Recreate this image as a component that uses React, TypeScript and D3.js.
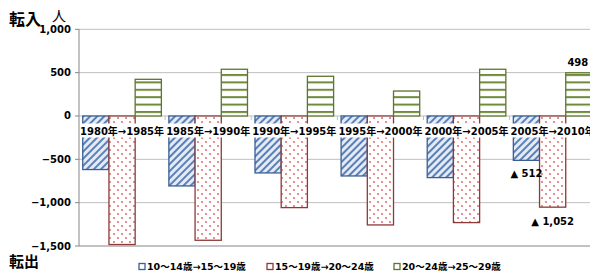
import { useEffect, useRef } from "react";
import * as d3 from "d3";

// 期間 (categories)
const periods = [
  "1980年→1985年",
  "1985年→1990年",
  "1990年→1995年",
  "1995年→2000年",
  "2000年→2005年",
  "2005年→2010年",
];

const seriesNames = ["10～14歳→15～19歳", "15～19歳→20～24歳", "20～24歳→25～29歳"];

const age10to14 = [-618, -807, -657, -692, -711, -512];
const age15to19 = [-1483, -1434, -1057, -1257, -1230, -1052];
const age20to24 = [423, 539, 458, 288, 539, 498];

const yTicks = [1000, 500, 0, -500, -1000, -1500];

const NUM_FONT = "'DejaVu Sans', 'Noto Sans CJK JP', sans-serif";
const JP_FONT = "'Noto Sans CJK JP', sans-serif";

export default function App() {
  const svgRef = useRef<SVGSVGElement>(null);

  useEffect(() => {
    if (!svgRef.current) return;
    const svg = d3.select(svgRef.current);
    const width = 590;
    const height = 273;
    svg.selectAll("*").remove();
    svg.attr("width", width).attr("height", height);

    const allSeries = [age10to14, age15to19, age20to24];

    // Patterns
    const defs = svg.append("defs");
    const pBlue = defs
      .append("pattern")
      .attr("id", "pBlue")
      .attr("patternUnits", "userSpaceOnUse")
      .attr("width", 5)
      .attr("height", 5)
      .attr("patternTransform", "rotate(45)");
    pBlue.append("rect").attr("width", 5).attr("height", 5).attr("fill", "#e4ebf5");
    pBlue.append("rect").attr("width", 2).attr("height", 5).attr("fill", "#5b80b8");

    const pRed = defs
      .append("pattern")
      .attr("id", "pRed")
      .attr("patternUnits", "userSpaceOnUse")
      .attr("width", 8)
      .attr("height", 8);
    pRed.append("rect").attr("width", 8).attr("height", 8).attr("fill", "#ffffff");
    pRed.append("circle").attr("cx", 2).attr("cy", 2).attr("r", 1.1).attr("fill", "#e47474");
    pRed.append("circle").attr("cx", 6).attr("cy", 6).attr("r", 1.1).attr("fill", "#e47474");

    const pGreen = defs
      .append("pattern")
      .attr("id", "pGreen")
      .attr("patternUnits", "userSpaceOnUse")
      .attr("width", 8)
      .attr("height", 7.4);
    pGreen.append("rect").attr("width", 8).attr("height", 7.4).attr("fill", "#ffffff");
    pGreen.append("rect").attr("y", 0).attr("width", 8).attr("height", 2).attr("fill", "#6f8a3a");

    const fills = ["url(#pBlue)", "url(#pRed)", "url(#pGreen)"];
    const strokes = ["#3a5f95", "#8c3a38", "#5d7530"];

    // Scales
    const yScale = d3.scaleLinear().domain([-1500, 1000]).range([246, 29.3]);
    const x0 = d3.scaleBand().domain(periods).range([79, 595.7]).padding(0);
    const x1 = d3
      .scaleBand<number>()
      .domain([0, 1, 2])
      .range([3.75, x0.bandwidth() - 3.75])
      .padding(0);

    // Grid lines
    svg
      .append("g")
      .selectAll("line")
      .data(yTicks.filter((t) => t !== -1500))
      .enter()
      .append("line")
      .attr("x1", 79)
      .attr("x2", width)
      .attr("y1", (d) => yScale(d))
      .attr("y2", (d) => yScale(d))
      .attr("stroke", "#bfbfbf")
      .attr("stroke-width", 1);

    // Bars
    allSeries.forEach((vals, si) => {
      svg
        .append("g")
        .selectAll("rect")
        .data(vals)
        .enter()
        .append("rect")
        .attr("x", (_d, i) => x0(periods[i])! + x1(si)!)
        .attr("y", (d) => yScale(Math.max(0, d)))
        .attr("width", x1.bandwidth())
        .attr("height", (d) => Math.abs(yScale(d) - yScale(0)))
        .attr("fill", fills[si])
        .attr("stroke", strokes[si])
        .attr("stroke-width", 1.3);
    });

    // Category ticks on zero line
    svg
      .append("g")
      .selectAll("line")
      .data(periods.slice(1))
      .enter()
      .append("line")
      .attr("x1", (d) => x0(d)!)
      .attr("x2", (d) => x0(d)!)
      .attr("y1", yScale(0))
      .attr("y2", yScale(0) + 4)
      .attr("stroke", "#bfbfbf");

    // Category labels with white background
    const labels = svg.append("g");
    periods.forEach((p) => {
      const g = labels.append("g");
      const t = g
        .append("text")
        .attr("x", x0(p)! + x0.bandwidth() / 2)
        .attr("y", 135)
        .attr("text-anchor", "middle")
        .attr("font-family", NUM_FONT)
        .attr("font-weight", "bold")
        .attr("font-size", "10px")
        .attr("fill", "#000")
        .text(p);
      const bb = (t.node() as SVGTextElement).getBBox();
      g.insert("rect", "text")
        .attr("x", bb.x - 1)
        .attr("y", 123.5)
        .attr("width", bb.width + 2)
        .attr("height", 14)
        .attr("fill", "#ffffff");
    });

    // Axes lines
    svg
      .append("line")
      .attr("x1", 79)
      .attr("x2", 79)
      .attr("y1", yScale(1000))
      .attr("y2", yScale(-1500))
      .attr("stroke", "#868686");
    svg
      .append("line")
      .attr("x1", 79)
      .attr("x2", width)
      .attr("y1", yScale(-1500))
      .attr("y2", yScale(-1500))
      .attr("stroke", "#868686");

    // Y ticks & labels
    const yAxis = svg.append("g");
    yAxis
      .selectAll("line")
      .data(yTicks)
      .enter()
      .append("line")
      .attr("x1", 75)
      .attr("x2", 79)
      .attr("y1", (d) => yScale(d))
      .attr("y2", (d) => yScale(d))
      .attr("stroke", "#868686");
    yAxis
      .selectAll("text")
      .data(yTicks)
      .enter()
      .append("text")
      .attr("x", 71)
      .attr("y", (d) => yScale(d) + 3.5)
      .attr("text-anchor", "end")
      .attr("font-family", NUM_FONT)
      .attr("font-weight", "bold")
      .attr("font-size", "10px")
      .attr("fill", "#000")
      .text((d) => d3.format(",")(d));

    // Value annotations for last period
    const last = periods.length - 1;
    const cx = (si: number) => x0(periods[last])! + x1(si)! + x1.bandwidth() / 2;
    const annot = [
      { x: cx(0), y: yScale(age10to14[last]) + 17, t: `▲ ${d3.format(",")(-age10to14[last])}` },
      { x: cx(1), y: yScale(age15to19[last]) + 18, t: `▲ ${d3.format(",")(-age15to19[last])}` },
      { x: cx(2) - 1, y: yScale(age20to24[last]) - 7, t: `${d3.format(",")(age20to24[last])}` },
    ];
    svg
      .append("g")
      .selectAll("text")
      .data(annot)
      .enter()
      .append("text")
      .attr("x", (d) => d.x)
      .attr("y", (d) => d.y)
      .attr("text-anchor", "middle")
      .attr("font-family", NUM_FONT)
      .attr("font-weight", "bold")
      .attr("font-size", "10px")
      .attr("fill", "#000")
      .text((d) => d.t);

    // Side titles
    svg
      .append("text")
      .attr("x", 9)
      .attr("y", 25)
      .attr("font-family", JP_FONT)
      .attr("font-weight", "bold")
      .attr("font-size", "16px")
      .attr("fill", "#000")
      .text("転入");
    svg
      .append("text")
      .attr("x", 52)
      .attr("y", 21)
      .attr("font-family", JP_FONT)
      .attr("font-size", "14px")
      .attr("fill", "#000")
      .text("人");
    svg
      .append("text")
      .attr("x", 9)
      .attr("y", 267)
      .attr("font-family", JP_FONT)
      .attr("font-weight", "bold")
      .attr("font-size", "15px")
      .attr("fill", "#000")
      .text("転出");

    // Legend
    const legendX = [139, 267, 394];
    const legend = svg.append("g");
    seriesNames.forEach((name, i) => {
      legend
        .append("rect")
        .attr("x", legendX[i])
        .attr("y", 263.5)
        .attr("width", 6)
        .attr("height", 6)
        .attr("fill", "#fff")
        .attr("stroke", strokes[i])
        .attr("stroke-width", 1.3);
      legend
        .append("text")
        .attr("x", legendX[i] + 8)
        .attr("y", 270)
        .attr("font-family", NUM_FONT)
        .attr("font-weight", "bold")
        .attr("font-size", "9.5px")
        .attr("fill", "#000")
        .text(name);
    });
  }, []);

  return (
    <div style={{ position: "absolute", left: 0, top: 0, width: 590, height: 273, overflow: "hidden", background: "#fff" }}>
      <svg ref={svgRef} style={{ display: "block" }}></svg>
    </div>
  );
}
